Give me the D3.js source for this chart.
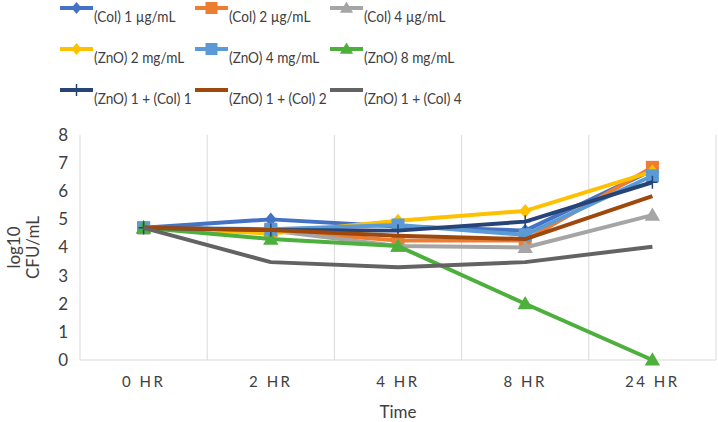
<!DOCTYPE html>
<html><head><meta charset="utf-8">
<script src="https://cdn.jsdelivr.net/npm/d3@7"></script>
<style>body{margin:0;background:#fff}svg{display:block}</style>
</head><body>
<svg id="c" width="718" height="422"></svg>
<script>
const categories = ["0 HR","2 HR","4 HR","8 HR","24 HR"];
const yTicks = [0,1,2,3,4,5,6,7,8];
const seriesNames = ["(Col) 1 µg/mL","(Col) 2 µg/mL","(Col) 4 µg/mL","(ZnO) 2 mg/mL","(ZnO) 4 mg/mL","(ZnO) 8 mg/mL","(ZnO) 1 + (Col) 1","(ZnO) 1 + (Col) 2","(ZnO) 1 + (Col) 4"];
const col1 = [4.7, 5.0, 4.75, 4.6, 6.75];
const col2 = [4.7, 4.6, 4.25, 4.25, 6.85];
const col4 = [4.7, 4.6, 4.05, 4.0, 5.15];
const zno2 = [4.7, 4.5, 4.95, 5.3, 6.7];
const zno4 = [4.7, 4.65, 4.8, 4.45, 6.55];
const zno8 = [4.7, 4.3, 4.05, 2.0, 0.0];
const combo1 = [4.7, 4.62, 4.6, 4.92, 6.32];
const combo2 = [4.7, 4.62, 4.42, 4.3, 5.83];
const combo4 = [4.7, 3.48, 3.3, 3.48, 4.03];
const seriesValues = [col1, col2, col4, zno2, zno4, zno8, combo1, combo2, combo4];
const colors = ["#4472C4","#ED7D31","#A5A5A5","#FFC000","#5B9BD5","#4DAF3C","#264478","#9E480E","#636363"];
const markers = ["diamond","square","triangle","diamond","square","triangle","plus","none","none"];

const svg = d3.select("#c");
const x = d3.scaleBand().domain(categories).range([80, 716]).padding(0);
const y = d3.scaleLinear().domain([0, 8]).range([360, 135]);
const font = "Lato, 'Open Sans', sans-serif";

// vertical gridlines at category boundaries
const bounds = categories.map(c => x(c)).concat([x.range()[1]]);
svg.append("g").selectAll("line").data(bounds).join("line")
  .attr("x1", d => d).attr("x2", d => d).attr("y1", y(8)).attr("y2", y(0))
  .attr("stroke", "#D9D9D9").attr("stroke-width", 1);
svg.append("line").attr("x1", x.range()[0]).attr("x2", x.range()[1])
  .attr("y1", y(0)).attr("y2", y(0)).attr("stroke", "#D9D9D9").attr("stroke-width", 1);

// y axis labels
const yAxis = d3.axisLeft(y).tickValues(yTicks).tickSize(0).tickPadding(12).tickFormat(d3.format("d"));
const gy = svg.append("g").attr("transform", `translate(${x.range()[0]},0)`).call(yAxis);
gy.select(".domain").remove();
gy.selectAll("text").attr("font-family", font).attr("font-size", 17).attr("fill", "#404040");

// x axis labels
const xAxis = d3.axisBottom(x).tickSize(0).tickPadding(16);
const gx = svg.append("g").attr("transform", `translate(0,${y(0)})`).call(xAxis);
gx.select(".domain").remove();
gx.selectAll("text").attr("font-family", font).attr("font-size", 15).attr("fill", "#404040")
  .attr("letter-spacing", "2.5px");

// axis titles
svg.append("text").attr("x", x(categories[2]) + x.bandwidth()/2).attr("y", 418)
  .attr("text-anchor", "middle").attr("font-family", font).attr("font-size", 17).attr("fill", "#404040").text("Time");
const yt = svg.append("text").attr("transform", `translate(0,${(y(0)+y(8))/2}) rotate(-90)`)
  .attr("text-anchor", "middle").attr("font-family", font).attr("font-size", 17).attr("fill", "#404040");
yt.append("tspan").attr("x", 0).attr("y", 20).text("log10");
yt.append("tspan").attr("x", 0).attr("y", 39).text("CFU/mL");

function drawMarker(g, type, cx, cy, color, s) {
  if (type === "diamond") {
    g.append("path").attr("d", `M${cx},${cy-s}L${cx+s*0.85},${cy}L${cx},${cy+s}L${cx-s*0.85},${cy}Z`).attr("fill", color);
  } else if (type === "square") {
    g.append("rect").attr("x", cx - s).attr("y", cy - s).attr("width", 2*s).attr("height", 2*s).attr("fill", color);
  } else if (type === "triangle") {
    g.append("path").attr("d", `M${cx},${cy-s*1.1}L${cx+s*1.1},${cy+s*0.8}L${cx-s*1.1},${cy+s*0.8}Z`).attr("fill", color);
  } else if (type === "plus") {
    g.append("line").attr("x1", cx).attr("x2", cx).attr("y1", cy-s).attr("y2", cy+s).attr("stroke", color).attr("stroke-width", 1.5);
    g.append("line").attr("x1", cx-s*0.8).attr("x2", cx+s*0.8).attr("y1", cy).attr("y2", cy).attr("stroke", color).attr("stroke-width", 1.5);
  }
}
const sizes = {diamond: 7, square: 6.5, triangle: 7, plus: 6.5, none: 0};

const line = d3.line().x((d, i) => x(categories[i]) + x.bandwidth()/2).y(d => y(d));
seriesValues.forEach((vals, si) => {
  const g = svg.append("g");
  g.append("path").attr("d", line(vals)).attr("fill", "none").attr("stroke", colors[si])
    .attr("stroke-width", 4).attr("stroke-linejoin", "round");
  vals.forEach((v, i) => drawMarker(g, markers[si], x(categories[i]) + x.bandwidth()/2, y(v), colors[si], sizes[markers[si]]));
});

// legend
const legCols = [60, 195, 330];
const legRows = [8, 49, 90];
seriesNames.forEach((name, i) => {
  const lx = legCols[i % 3], ly = legRows[Math.floor(i / 3)];
  const g = svg.append("g");
  g.append("line").attr("x1", lx).attr("x2", lx + 33).attr("y1", ly).attr("y2", ly)
    .attr("stroke", colors[i]).attr("stroke-width", 4);
  drawMarker(g, markers[i], lx + 16.5, ly, colors[i], 6);
  const t = g.append("text").attr("x", lx + 34).attr("y", ly + 14).attr("font-family", font)
    .attr("font-size", 16).attr("fill", "#404040").text(name);
  const w = t.node().getComputedTextLength();
  t.attr("textLength", w * 0.85).attr("lengthAdjust", "spacingAndGlyphs");
});
</script>
</body></html>
